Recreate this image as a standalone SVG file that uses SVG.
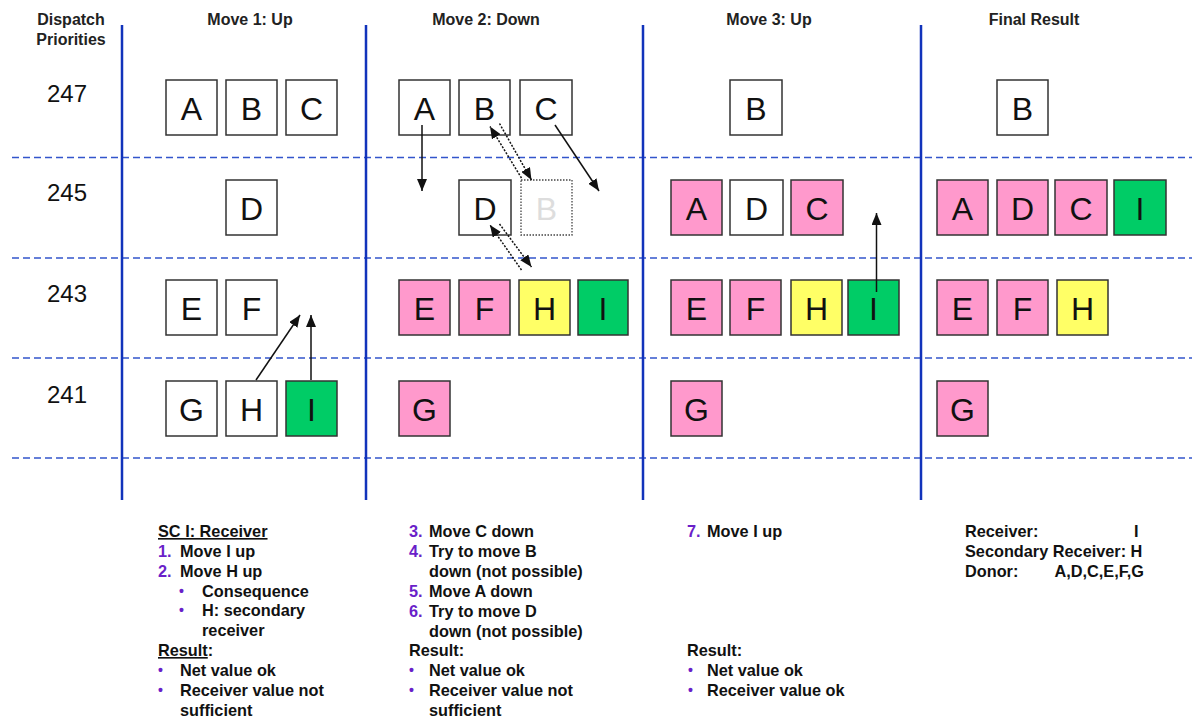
<svg xmlns="http://www.w3.org/2000/svg" width="1192" height="720" viewBox="0 0 1192 720">
<defs>
<style>
text{font-family:"Liberation Sans",Arial,sans-serif;}
.hd{font-size:16px;font-weight:bold;fill:#222;text-anchor:middle;}
.pr{font-size:24px;fill:#111;text-anchor:middle;}
.bx rect{stroke:#333;stroke-width:1.5;}
.bx text{font-size:32px;fill:#111;text-anchor:middle;}
.w{fill:#fff;}.p{fill:#ff99cc;}.y{fill:#ffff66;}.g{fill:#00cc66;}
.vl{stroke:#1133bb;stroke-width:2.5;}
.dl{stroke:#3355cc;stroke-width:1.5;stroke-dasharray:7,4;}
.ar{stroke:#111;stroke-width:1.5;fill:none;marker-end:url(#ah);}
.da{stroke:#111;stroke-width:1.5;fill:none;stroke-dasharray:2,1.5;marker-end:url(#ah);}
.tx{font-size:16.3px;font-weight:bold;fill:#111;}
.num{fill:#6a1fc9;}
.bul{fill:#6a1fc9;font-size:14px;}
</style>
<marker id="ah" viewBox="0 0 12 10" refX="12" refY="5" markerWidth="12" markerHeight="10" markerUnits="userSpaceOnUse" orient="auto">
<path d="M0,0 L12,5 L0,10 z" fill="#111"/>
</marker>
</defs>
<rect width="1192" height="720" fill="#fff"/>

<g id="grid">
<line class="dl" x1="12" y1="157.5" x2="1192" y2="157.5"/>
<line class="dl" x1="12" y1="258" x2="1192" y2="258"/>
<line class="dl" x1="12" y1="358" x2="1192" y2="358"/>
<line class="dl" x1="12" y1="458" x2="1192" y2="458"/>
<line class="vl" x1="122" y1="25" x2="122" y2="500"/>
<line class="vl" x1="366" y1="25" x2="366" y2="500"/>
<line class="vl" x1="643" y1="25" x2="643" y2="500"/>
<line class="vl" x1="921" y1="25" x2="921" y2="500"/>
</g>

<g id="headers">
<text class="hd" x="71" y="25">Dispatch</text>
<text class="hd" x="71" y="45">Priorities</text>
<text class="hd" x="250" y="25">Move 1: Up</text>
<text class="hd" x="486" y="25">Move 2: Down</text>
<text class="hd" x="769" y="25">Move 3: Up</text>
<text class="hd" x="1034" y="25">Final Result</text>
<text class="pr" x="67" y="102">247</text>
<text class="pr" x="67" y="201">245</text>
<text class="pr" x="67" y="302">243</text>
<text class="pr" x="67" y="403">241</text>
</g>

<g id="move1" class="bx">
<g id="m1-A"><rect class="w" x="166" y="80" width="51" height="55"/><text x="191.5" y="120">A</text></g>
<g id="m1-B"><rect class="w" x="226" y="80" width="51" height="55"/><text x="251.5" y="120">B</text></g>
<g id="m1-C"><rect class="w" x="286" y="80" width="51" height="55"/><text x="311.5" y="120">C</text></g>
<g id="m1-D"><rect class="w" x="226" y="180" width="51" height="55"/><text x="251.5" y="220">D</text></g>
<g id="m1-E"><rect class="w" x="166" y="280" width="51" height="55"/><text x="191.5" y="320">E</text></g>
<g id="m1-F"><rect class="w" x="226" y="280" width="51" height="55"/><text x="251.5" y="320">F</text></g>
<g id="m1-G"><rect class="w" x="166" y="381" width="51" height="55"/><text x="191.5" y="421">G</text></g>
<g id="m1-H"><rect class="w" x="226" y="381" width="51" height="55"/><text x="251.5" y="421">H</text></g>
<g id="m1-I"><rect class="g" x="286" y="381" width="51" height="55"/><text x="311.5" y="421">I</text></g>
</g>

<g id="move2" class="bx">
<g id="m2-A"><rect class="w" x="399" y="80" width="51" height="55"/><text x="424.5" y="120">A</text></g>
<g id="m2-B"><rect class="w" x="459" y="80" width="51" height="55"/><text x="484.5" y="120">B</text></g>
<g id="m2-C"><rect class="w" x="520" y="80" width="52" height="55"/><text x="546" y="120">C</text></g>
<g id="m2-D"><rect class="w" x="459" y="180" width="52" height="55"/><text x="485" y="220">D</text></g>
<g id="m2-Bghost"><rect class="w" x="521" y="180" width="51" height="55" style="stroke:#444;stroke-dasharray:1.5,1.5;stroke-width:1.3"/><text x="546.5" y="220" style="fill:#dddddd">B</text></g>
<g id="m2-E"><rect class="p" x="399" y="280" width="51" height="55"/><text x="424.5" y="320">E</text></g>
<g id="m2-F"><rect class="p" x="459" y="280" width="51" height="55"/><text x="484.5" y="320">F</text></g>
<g id="m2-H"><rect class="y" x="519" y="280" width="51" height="55"/><text x="544.5" y="320">H</text></g>
<g id="m2-I"><rect class="g" x="578" y="280" width="50" height="55"/><text x="603" y="320">I</text></g>
<g id="m2-G"><rect class="p" x="399" y="381" width="51" height="55"/><text x="424.5" y="421">G</text></g>
</g>

<g id="move3" class="bx">
<g id="m3-B"><rect class="w" x="730" y="80" width="52" height="55"/><text x="756" y="120">B</text></g>
<g id="m3-A"><rect class="p" x="671" y="180" width="51" height="55"/><text x="696.5" y="220">A</text></g>
<g id="m3-D"><rect class="w" x="730" y="180" width="53" height="55"/><text x="756.5" y="220">D</text></g>
<g id="m3-C"><rect class="p" x="791" y="180" width="52" height="55"/><text x="817" y="220">C</text></g>
<g id="m3-E"><rect class="p" x="671" y="280" width="51" height="55"/><text x="696.5" y="320">E</text></g>
<g id="m3-F"><rect class="p" x="730" y="280" width="51" height="55"/><text x="755.5" y="320">F</text></g>
<g id="m3-H"><rect class="y" x="791" y="280" width="51" height="55"/><text x="816.5" y="320">H</text></g>
<g id="m3-I"><rect class="g" x="848" y="280" width="51" height="55"/><text x="873.5" y="320">I</text></g>
<g id="m3-G"><rect class="p" x="671" y="381" width="51" height="55"/><text x="696.5" y="421">G</text></g>
</g>

<g id="final" class="bx">
<g id="f-B"><rect class="w" x="997" y="80" width="51" height="55"/><text x="1022.5" y="120">B</text></g>
<g id="f-A"><rect class="p" x="937" y="180" width="51" height="55"/><text x="962.5" y="220">A</text></g>
<g id="f-D"><rect class="p" x="997" y="180" width="51" height="55"/><text x="1022.5" y="220">D</text></g>
<g id="f-C"><rect class="p" x="1055" y="180" width="52" height="55"/><text x="1081" y="220">C</text></g>
<g id="f-I"><rect class="g" x="1114" y="180" width="52" height="55"/><text x="1140" y="220">I</text></g>
<g id="f-E"><rect class="p" x="937" y="280" width="51" height="55"/><text x="962.5" y="320">E</text></g>
<g id="f-F"><rect class="p" x="997" y="280" width="51" height="55"/><text x="1022.5" y="320">F</text></g>
<g id="f-H"><rect class="y" x="1057" y="280" width="51" height="55"/><text x="1082.5" y="320">H</text></g>
<g id="f-G"><rect class="p" x="937" y="381" width="51" height="55"/><text x="962.5" y="421">G</text></g>
</g>

<g id="connectors">
<line class="ar" x1="256" y1="380" x2="300" y2="315"/>
<line class="ar" x1="311" y1="380" x2="311" y2="315"/>
<line class="ar" x1="422" y1="125" x2="422" y2="191"/>
<line class="ar" x1="555" y1="125" x2="599" y2="191"/>
<line class="da" x1="521.5" y1="178" x2="490" y2="126.5"/>
<line class="da" x1="499.5" y1="123.5" x2="531.5" y2="180"/>
<line class="da" x1="521.5" y1="270" x2="490" y2="225"/>
<line class="da" x1="499.5" y1="224" x2="531.5" y2="267"/>
<line class="ar" x1="876.5" y1="292" x2="876.5" y2="213"/>
</g>

<g id="notes1" class="tx">
<text x="158" y="537" text-decoration="underline">SC I: Receiver</text>
<text x="158" y="557" class="num">1.</text><text x="180" y="557">Move I up</text>
<text x="158" y="577" class="num">2.</text><text x="180" y="577">Move H up</text>
<text class="bul" x="179" y="596">•</text><text x="202" y="597">Consequence</text>
<text class="bul" x="179" y="615">•</text><text x="202" y="616">H: secondary</text>
<text x="202" y="636">receiver</text>
<text x="158" y="656"><tspan text-decoration="underline">Result</tspan>:</text>
<text class="bul" x="158" y="675">•</text><text x="180" y="676">Net value ok</text>
<text class="bul" x="158" y="695">•</text><text x="180" y="696">Receiver value not</text>
<text x="180" y="716">sufficient</text>
</g>

<g id="notes2" class="tx">
<text x="409" y="537" class="num">3.</text><text x="429" y="537">Move C down</text>
<text x="409" y="557" class="num">4.</text><text x="429" y="557">Try to move B</text>
<text x="429" y="577">down (not possible)</text>
<text x="409" y="597" class="num">5.</text><text x="429" y="597">Move A down</text>
<text x="409" y="617" class="num">6.</text><text x="429" y="617">Try to move D</text>
<text x="429" y="637">down (not possible)</text>
<text x="409" y="656">Result:</text>
<text class="bul" x="409" y="675">•</text><text x="429" y="676">Net value ok</text>
<text class="bul" x="409" y="695">•</text><text x="429" y="696">Receiver value not</text>
<text x="429" y="716">sufficient</text>
</g>

<g id="notes3" class="tx">
<text x="687" y="537" class="num">7.</text><text x="707" y="537">Move I up</text>
<text x="687" y="656">Result:</text>
<text class="bul" x="688" y="675">•</text><text x="707" y="676">Net value ok</text>
<text class="bul" x="688" y="695">•</text><text x="707" y="696">Receiver value ok</text>
</g>

<g id="notes4" class="tx">
<text x="965" y="537">Receiver:</text><text x="1134" y="537">I</text>
<text x="965" y="557">Secondary Receiver: H</text>
<text x="965" y="577">Donor:</text><text x="1144" y="577" text-anchor="end">A,D,C,E,F,G</text>
</g>
</svg>
